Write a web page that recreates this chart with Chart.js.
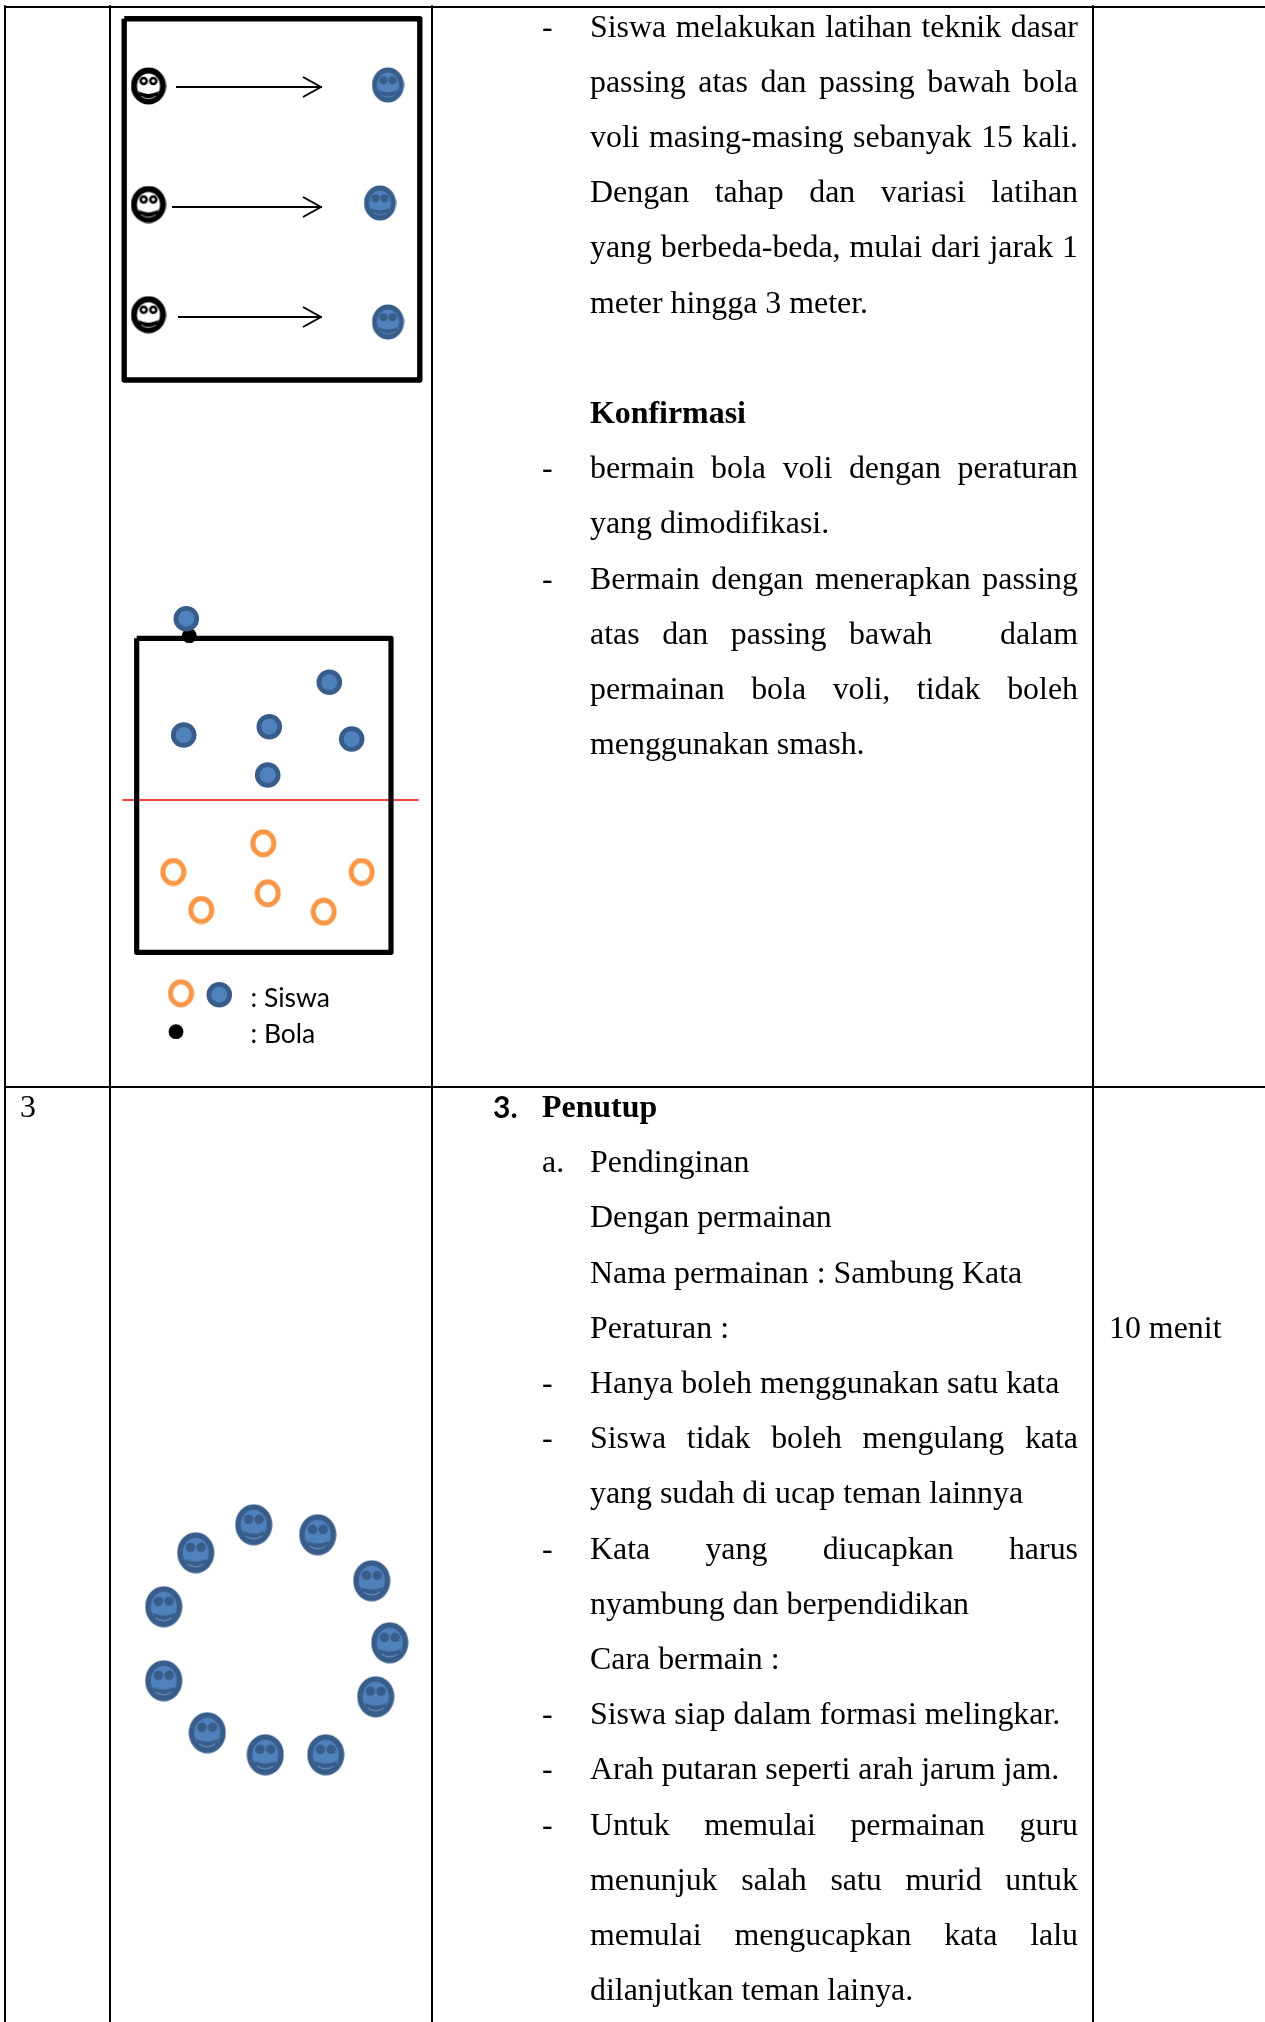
<!DOCTYPE html>
<html>
<head>
<meta charset="utf-8">
<title>Penutup</title>
<script src="https://cdn.jsdelivr.net/npm/chart.js@4"></script>
<style>
  html, body { margin: 0; padding: 0; background: #fff; }
  #page { position: relative; width: 1265px; height: 2022px; overflow: hidden; }
  #sheet { position: absolute; left: 0; top: 0; }
  .t { position: absolute; white-space: pre; color: #000; font-family: "Liberation Serif", serif; font-size: 31.9px; line-height: 35px; }
  .j { white-space: normal; text-align: justify; text-align-last: justify; }
  .b { font-weight: bold; }
  .s { font-family: Lato, sans-serif; font-size: 26.5px; }
  .n { font-family: Lato, sans-serif; font-size: 30px; }
</style>
</head>
<body>
<div id="page"><canvas id="sheet" width="1265" height="2022"></canvas></div>
<script>
// tabel
const tableCols = [5, 110, 432, 1093];
const tableRows = [7, 1087];

// latihan passing
const drillBox = [[124.2, 18.8], [419.8, 18.8], [419.8, 380], [124.2, 380], [124.2, 18.8]];
const drillBlack = [[148.5, 86], [148.5, 204.5], [148.5, 314.7]];
const drillBlue = [[388, 85], [380, 203], [388, 322]];
const arrowShafts = [[[176, 87], [322, 87]], [[172, 207], [322, 207]], [[178, 317], [322, 317]]];
const arrowHeads = [[[303, 77], [321, 87], [303, 97]], [[303, 197], [321, 207], [303, 217]], [[303, 307], [321, 317], [303, 327]]];

// lapangan voli
const courtBox = [[136.7, 638.3], [391, 638.3], [391, 952.3], [136.7, 952.3], [136.7, 638.3]];
const courtNet = [[122.3, 800], [418.7, 800]];
const teamBlue = [[186.3, 618.7], [329.3, 682.3], [183.7, 735], [269.3, 726.7], [351.7, 739], [267.7, 775]];
const teamOrange = [[263.3, 843.3], [173.3, 872], [361.7, 872], [267.7, 893.3], [201.3, 910], [323.7, 911.7]];
const ball = [[189.3, 635.7]];
const legendOrange = [[181, 993.3]];
const legendBlue = [[219.3, 994.7]];
const legendBall = [[176, 1031.7]];

// formasi melingkar
const circleFaces = [[253.7, 1524.7], [317.7, 1534.7], [195.7, 1552.7], [371.7, 1580.7], [163.7, 1606.7], [389.7, 1642.7],
  [163.7, 1680.7], [375.7, 1696.7], [207.3, 1732.7], [265.3, 1754.7], [325.7, 1754.7]];

// teks: [baris, tanda, isi, rata kanan-kiri]
const coreLines = [
  [0, "-", "Siswa melakukan latihan teknik dasar", 1],
  [1, "", "passing atas dan passing bawah bola", 1],
  [2, "", "voli masing-masing sebanyak 15 kali.", 1],
  [3, "", "Dengan tahap dan variasi latihan", 1],
  [4, "", "yang berbeda-beda, mulai dari jarak 1", 1],
  [5, "", "meter hingga 3 meter.", 0],
  [8, "-", "bermain bola voli dengan peraturan", 1],
  [9, "", "yang dimodifikasi.", 0],
  [10, "-", "Bermain dengan menerapkan passing", 1],
  [11, "", "atas dan passing bawah \u00a0 dalam", 1],
  [12, "", "permainan bola voli, tidak boleh", 1],
  [13, "", "menggunakan smash.", 0]
];
const closingLines = [
  [1, "a.", "Pendinginan", 0],
  [2, "", "Dengan permainan", 0],
  [3, "", "Nama permainan : Sambung Kata", 0],
  [4, "", "Peraturan :", 0],
  [5, "-", "Hanya boleh menggunakan satu kata", 0],
  [6, "-", "Siswa tidak boleh mengulang kata", 1],
  [7, "", "yang sudah di ucap teman lainnya", 0],
  [8, "-", "Kata yang diucapkan harus", 1],
  [9, "", "nyambung dan berpendidikan", 0],
  [10, "", "Cara bermain :", 0],
  [11, "-", "Siswa siap dalam formasi melingkar.", 0],
  [12, "-", "Arah putaran seperti arah jarum jam.", 0],
  [13, "-", "Untuk memulai permainan guru", 1],
  [14, "", "menunjuk salah satu murid untuk", 1],
  [15, "", "memulai mengucapkan kata lalu", 1],
  [16, "", "dilanjutkan teman lainya.", 0]
];

const toPts = (list) => list.map((p) => ({ x: p[0], y: p[1] }));

// wajah dibuat sebagai gambar kecil, lalu dipakai sebagai pointStyle
function face(w, h, ring, fill, eye, eyeHole, ringW, arcColor) {
  const c = document.createElement("canvas");
  c.width = w; c.height = h;
  const g = c.getContext("2d");
  const cx = w / 2, cy = h / 2;
  const k = h / 41;
  g.beginPath();
  g.ellipse(cx, cy, w / 2 - ringW / 2 - 0.5, h / 2 - ringW / 2 - 0.5, 0, 0, Math.PI * 2);
  g.fillStyle = fill; g.fill();
  g.lineWidth = ringW; g.strokeStyle = ring; g.stroke();
  [-5.2, 5.2].forEach((dx) => {
    g.beginPath();
    g.arc(cx + dx * k, cy - 5.3 * k, 4.6 * k, 0, Math.PI * 2);
    g.fillStyle = eye; g.fill();
    if (eyeHole) {
      g.beginPath();
      g.arc(cx + dx * k, cy - 5.3 * k, 1.9 * k, 0, Math.PI * 2);
      g.fillStyle = eyeHole; g.fill();
    }
  });
  // mulut
  g.beginPath();
  g.moveTo(cx - 10.5 * k, cy + 5.5 * k);
  g.quadraticCurveTo(cx - 8 * k, cy + 8 * k, cx, cy + 8.5 * k);
  g.quadraticCurveTo(cx + 8 * k, cy + 8 * k, cx + 10.5 * k, cy + 5.5 * k);
  g.quadraticCurveTo(cx + 10 * k, cy + 15.5 * k, cx, cy + 15.5 * k);
  g.quadraticCurveTo(cx - 10 * k, cy + 15.5 * k, cx - 10.5 * k, cy + 5.5 * k);
  g.fillStyle = eye; g.fill();
  g.beginPath();
  g.moveTo(cx - 8 * k, cy + 11 * k);
  g.quadraticCurveTo(cx, cy + 16.5 * k, cx + 8 * k, cy + 11 * k);
  g.strokeStyle = arcColor; g.lineWidth = 0.9; g.stroke();
  return c;
}

function ring(w, h, color, lineW) {
  const c = document.createElement("canvas");
  c.width = w; c.height = h;
  const g = c.getContext("2d");
  g.beginPath();
  g.ellipse(w / 2, h / 2, w / 2 - lineW / 2 - 0.5, h / 2 - lineW / 2 - 0.5, 0, 0, Math.PI * 2);
  g.lineWidth = lineW; g.strokeStyle = color; g.stroke();
  return c;
}

const blue = "#4f81bd", blueDark = "#385d8a", orange = "#f79646";
const faceBlack = face(36, 38, "#000", "#fff", "#000", "#fff", 6, "#bbb");
const faceSmall = face(33, 36, blueDark, blue, blueDark, null, 5, blue);
const faceBig = face(38, 42, blueDark, blue, blueDark, null, 5.5, "#7ba0cd");
const orangeRing = ring(27, 29, orange, 5);

function path(list, color, width) {
  return { type: "line", data: toPts(list), borderColor: color, borderWidth: width, pointRadius: 0, fill: false, tension: 0, clip: false, borderJoinStyle: "round", borderCapStyle: "butt" };
}
function dots(list, opts) {
  return Object.assign({ type: "scatter", data: toPts(list), clip: false, showLine: false }, opts);
}

const datasets = [];
tableCols.forEach((x) => datasets.push(path([[x, 6], [x, 2022]], "#000", 2)));
tableRows.forEach((y) => datasets.push(path([[4, y], [1265, y]], "#000", 2)));
datasets.push(path(drillBox, "#000", 5.4));
arrowShafts.forEach((a) => datasets.push(path(a, "#000", 2)));
arrowHeads.forEach((a) => datasets.push(path(a, "#000", 2)));
datasets.push(path(courtBox, "#000", 5.2));
datasets.push(path(courtNet, "#ff0000", 1.5));
datasets.push(dots(drillBlack, { pointStyle: faceBlack }));
datasets.push(dots(drillBlue, { pointStyle: faceSmall }));
const blueDot = { pointStyle: "circle", pointRadius: 10.4, backgroundColor: blue, borderColor: blueDark, borderWidth: 4.8 };
datasets.push(dots(teamBlue, blueDot));
datasets.push(dots(legendBlue, blueDot));
datasets.push(dots(teamOrange, { pointStyle: orangeRing }));
datasets.push(dots(legendOrange, { pointStyle: orangeRing }));
const blackDot = { pointStyle: "circle", pointRadius: 7.4, backgroundColor: "#000", borderWidth: 0 };
datasets.push(dots(ball, blackDot));
datasets.push(dots(legendBall, blackDot));
datasets.push(dots(circleFaces, { pointStyle: faceBig }));

const chart = new Chart(document.getElementById("sheet").getContext("2d"), {
  type: "scatter",
  data: { datasets: datasets },
  options: {
    responsive: false,
    animation: false,
    layout: { padding: 0, autoPadding: false },
    plugins: { legend: { display: false }, tooltip: { enabled: false } },
    scales: {
      x: { type: "linear", min: 0, max: 1265, display: false },
      y: { type: "linear", min: 0, max: 2022, reverse: true, display: false }
    }
  }
});

// teks asli di atas kanvas, posisinya lewat skala chart
const page = document.getElementById("page");
function put(text, x, base, cls, width) {
  const d = document.createElement("div");
  d.className = "t " + (cls || "");
  d.textContent = text;
  d.style.left = chart.scales.x.getPixelForValue(x) + "px";
  d.style.top = (chart.scales.y.getPixelForValue(base) - 26) + "px";
  if (width) d.style.width = width + "px";
  page.appendChild(d);
}
function block(lines, base0) {
  lines.forEach((l) => {
    const base = base0 + l[0] * 55.2;
    if (l[1]) put(l[1], 542, base);
    put(l[2], 590, base, l[3] ? "j" : "", l[3] ? 488 : 0);
  });
}
block(coreLines, 34.5);
block(closingLines, 1115);
put("Konfirmasi", 590, 421, "b");
put("3", 20, 1115);
put("3.", 493, 1115, "b n");
put("Penutup", 542, 1115, "b");
put("10 menit", 1109, 1335.5);
put(": Siswa", 250.5, 1005.5, "s");
put(": Bola", 250.5, 1041.5, "s");
</script>
</body>
</html>
